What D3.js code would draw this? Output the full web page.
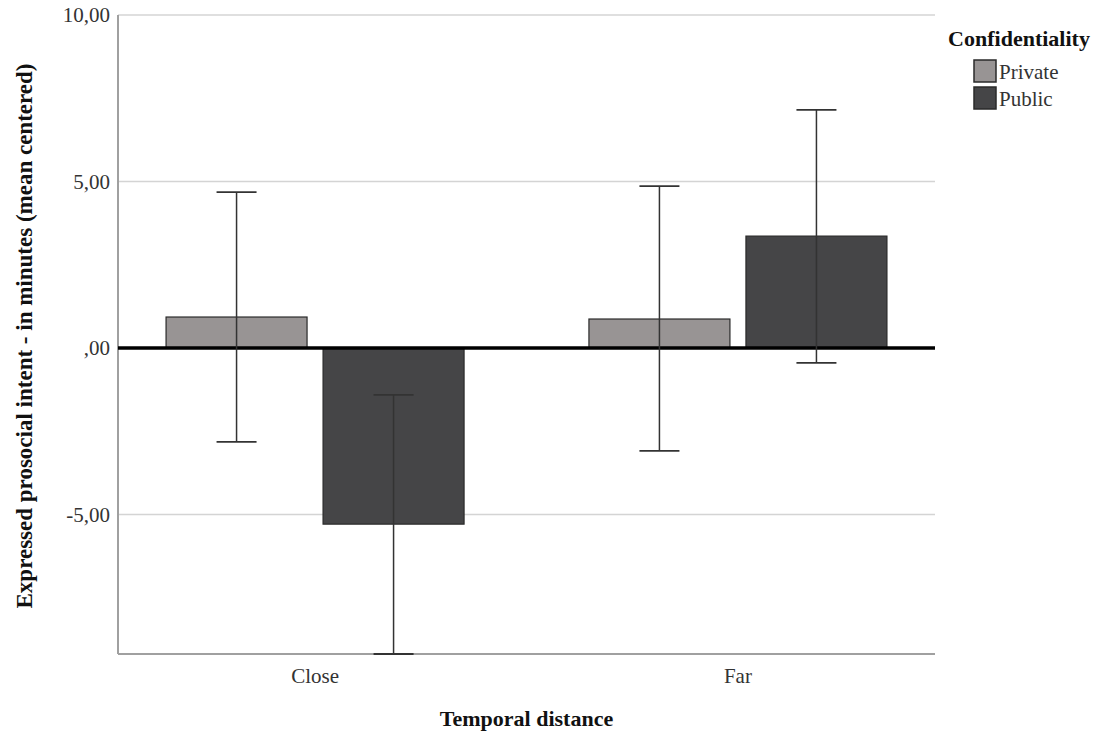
<!DOCTYPE html>
<html>
<head>
<meta charset="utf-8">
<script src="https://cdn.jsdelivr.net/npm/d3@7"></script>
<style>
  body { margin: 0; background: #fff; }
</style>
</head>
<body>
<div id="canvas"></div>
<script>
var w = 1112;
var h = 736;

var categories = ["Close", "Far"];
var groups = ["Private", "Public"];
var means = [[0.93, -5.29], [0.87, 3.36]];
var lowerCI = [[-2.82, -9.19], [-3.09, -0.45]];
var upperCI = [[4.68, -1.41], [4.86, 7.15]];
var yTicks = [-5, 0, 5, 10];
var colors = ["#989494", "#454547"];

var plotLeft = 118, plotRight = 935, plotTop = 15, plotBottom = 654;
var font = "'Liberation Serif', 'Times New Roman', serif";

var canvas = d3.select("#canvas")
    .append("svg")
    .attr("width", w)
    .attr("height", h)
    .style("background-color", "white");

var yScale = d3.scaleLinear()
    .domain([-9.19, 10])
    .range([plotBottom, plotTop]);

var xScale = d3.scalePoint()
    .domain(categories)
    .range([plotLeft, plotRight])
    .padding(0.466);

var inner = d3.scaleBand()
    .domain(groups)
    .range([-149, 149])
    .paddingInner(0.102);

// gridlines
canvas.selectAll(".grid")
    .data(yTicks.filter(function (t) { return t != 0; }))
    .join("line")
    .attr("class", "grid")
    .attr("x1", plotLeft)
    .attr("x2", plotRight)
    .attr("y1", function (d) { return yScale(d); })
    .attr("y2", function (d) { return yScale(d); })
    .attr("stroke", "#d4d4d4")
    .attr("stroke-width", 1.5);

// axis lines
canvas.append("line")
    .attr("x1", plotLeft).attr("x2", plotLeft)
    .attr("y1", plotTop).attr("y2", plotBottom)
    .attr("stroke", "#a0a0a0").attr("stroke-width", 2);
canvas.append("line")
    .attr("x1", plotLeft).attr("x2", plotRight)
    .attr("y1", plotBottom).attr("y2", plotBottom)
    .attr("stroke", "#a0a0a0").attr("stroke-width", 2);

// flatten data
var bars = [];
categories.forEach(function (c, i) {
    groups.forEach(function (g, j) {
        bars.push({ cat: c, grp: g, j: j, v: means[i][j], lo: lowerCI[i][j], hi: upperCI[i][j] });
    });
});

canvas.selectAll(".bar")
    .data(bars)
    .join("rect")
    .attr("class", "bar")
    .attr("x", function (d) { return xScale(d.cat) + inner(d.grp); })
    .attr("width", inner.bandwidth())
    .attr("y", function (d) { return yScale(Math.max(0, d.v)); })
    .attr("height", function (d) { return Math.abs(yScale(d.v) - yScale(0)); })
    .attr("fill", function (d) { return colors[d.j]; })
    .attr("stroke", "#2a2a2a")
    .attr("stroke-width", 1.2);

// zero line
canvas.append("line")
    .attr("x1", plotLeft).attr("x2", plotRight)
    .attr("y1", yScale(0)).attr("y2", yScale(0))
    .attr("stroke", "black").attr("stroke-width", 3.5);

// error bars
var cap = 20;
var err = canvas.selectAll(".err")
    .data(bars)
    .join("g")
    .attr("class", "err")
    .attr("transform", function (d) {
        return "translate(" + (xScale(d.cat) + inner(d.grp) + inner.bandwidth() / 2) + ",0)";
    });
err.append("line")
    .attr("x1", 0).attr("x2", 0)
    .attr("y1", function (d) { return yScale(d.lo); })
    .attr("y2", function (d) { return yScale(d.hi); })
    .attr("stroke", "#333").attr("stroke-width", 1.5);
err.append("line")
    .attr("x1", -cap).attr("x2", cap)
    .attr("y1", function (d) { return yScale(d.hi); })
    .attr("y2", function (d) { return yScale(d.hi); })
    .attr("stroke", "#333").attr("stroke-width", 1.8);
err.append("line")
    .attr("x1", -cap).attr("x2", cap)
    .attr("y1", function (d) { return yScale(d.lo); })
    .attr("y2", function (d) { return yScale(d.lo); })
    .attr("stroke", "#333").attr("stroke-width", 1.8);

// y tick labels (SPSS style: comma decimal, no leading zero)
var fmt = function (t) {
    var s = t.toFixed(2).replace(".", ",");
    return t == 0 ? ",00" : s;
};
canvas.selectAll(".ytick")
    .data(yTicks)
    .join("text")
    .attr("class", "ytick")
    .attr("x", plotLeft - 8)
    .attr("y", function (d) { return yScale(d); })
    .attr("dy", "0.35em")
    .attr("text-anchor", "end")
    .attr("font-family", font)
    .attr("font-size", "21px")
    .attr("fill", "#333")
    .text(fmt);

// x tick labels
canvas.selectAll(".xtick")
    .data(categories)
    .join("text")
    .attr("class", "xtick")
    .attr("x", function (d) { return xScale(d); })
    .attr("y", 683)
    .attr("text-anchor", "middle")
    .attr("font-family", font)
    .attr("font-size", "21px")
    .attr("fill", "#333")
    .text(function (d) { return d; });

// axis titles
canvas.append("text")
    .attr("x", (plotLeft + plotRight) / 2)
    .attr("y", 726)
    .attr("text-anchor", "middle")
    .attr("font-family", font)
    .attr("font-size", "22px")
    .attr("font-weight", "bold")
    .attr("fill", "#111")
    .text("Temporal distance");

canvas.append("text")
    .attr("transform", "translate(32," + 336 + ") rotate(-90)")
    .attr("text-anchor", "middle")
    .attr("font-family", font)
    .attr("font-size", "23px")
    .attr("font-weight", "bold")
    .attr("fill", "#111")
    .text("Expressed prosocial intent - in minutes (mean centered)");

// legend
canvas.append("text")
    .attr("x", 1019)
    .attr("y", 46)
    .attr("text-anchor", "middle")
    .attr("font-family", font)
    .attr("font-size", "22px")
    .attr("font-weight", "bold")
    .attr("fill", "#111")
    .text("Confidentiality");

var leg = canvas.selectAll(".leg")
    .data(groups)
    .join("g")
    .attr("class", "leg")
    .attr("transform", function (d, i) { return "translate(974," + (60 + i * 27) + ")"; });
leg.append("rect")
    .attr("width", 22).attr("height", 22)
    .attr("fill", function (d, i) { return colors[i]; })
    .attr("stroke", "#2a2a2a").attr("stroke-width", 1.5);
leg.append("text")
    .attr("x", 25)
    .attr("y", 19)
    .attr("font-family", font)
    .attr("font-size", "21px")
    .attr("fill", "#333")
    .text(function (d) { return d; });
</script>
</body>
</html>
